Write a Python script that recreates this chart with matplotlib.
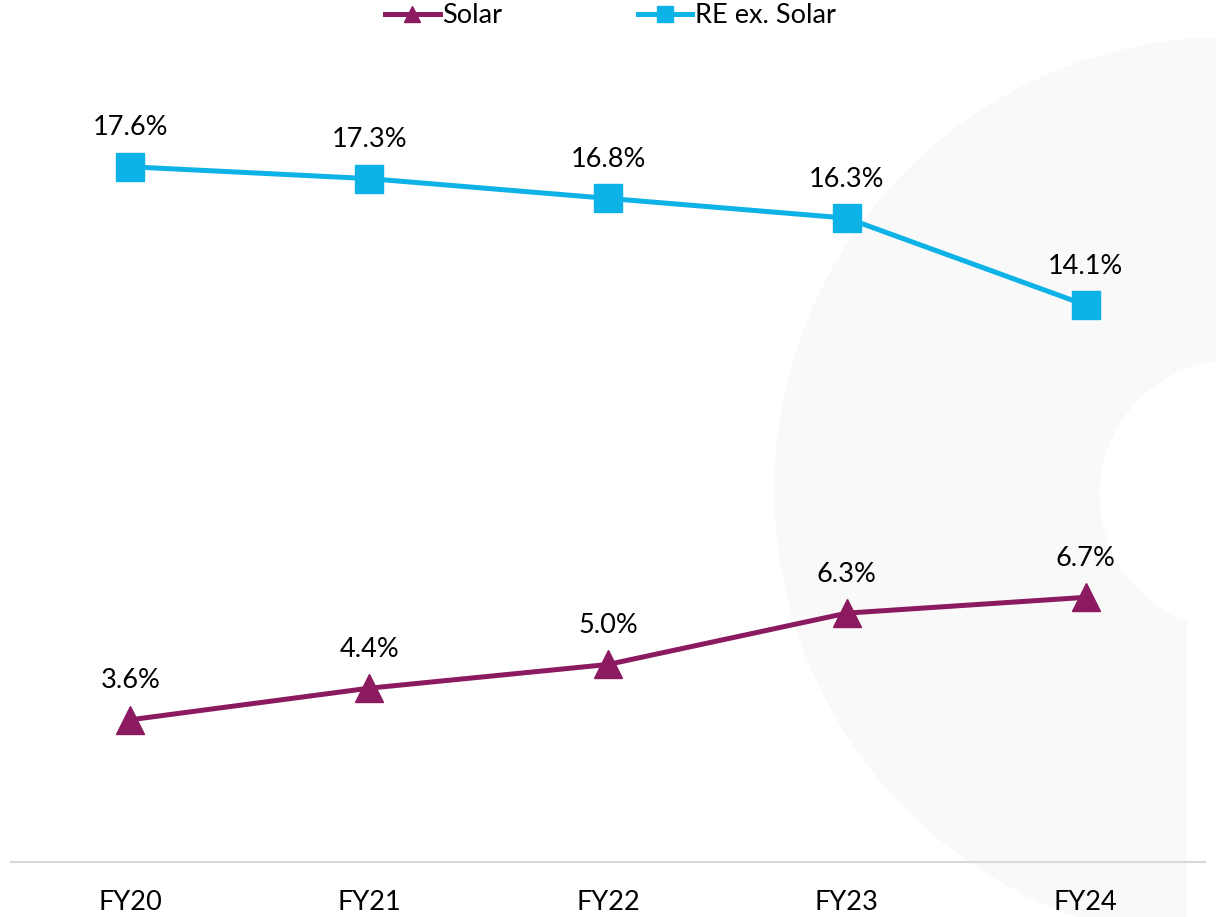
import matplotlib.pyplot as plt
from matplotlib.patches import Circle, Rectangle

years = ['FY20', 'FY21', 'FY22', 'FY23', 'FY24']
solar = [3.6, 4.4, 5.0, 6.3, 6.7]
re_ex_solar = [17.6, 17.3, 16.8, 16.3, 14.1]

purple = '#8C1A60'
blue = '#0DB2E6'
font = 'Lato'

fig = plt.figure(figsize=(12.16, 9.17), dpi=100)

# faint watermark ring on the right
fig.add_artist(Circle((12.27, 4.27), 4.52, transform=fig.dpi_scale_trans,
                      color='#f9f9f9', zorder=0))
fig.add_artist(Circle((12.35, 4.22), 1.35, transform=fig.dpi_scale_trans,
                      color='white', zorder=0))
fig.add_artist(Rectangle((11.87, 0), 0.4, 2.97, transform=fig.dpi_scale_trans,
                         color='white', zorder=0))

ax = fig.add_axes([0.009, 0.06, 0.982, 0.8615])
ax.set_facecolor('none')

x = range(len(years))
ax.plot(x, solar, color=purple, lw=3.6, marker='^', ms=20, label='Solar')
ax.plot(x, re_ex_solar, color=blue, lw=3.6, marker='s', ms=20, label='RE ex. Solar')

for xi, v in zip(x, solar):
    ax.annotate(f'{v:.1f}%', (xi, v), xytext=(0, 28), textcoords='offset points',
                ha='center', va='center', fontsize=19.5, family=font)
for xi, v in zip(x, re_ex_solar):
    ax.annotate(f'{v:.1f}%', (xi, v), xytext=(0, 28), textcoords='offset points',
                ha='center', va='center', fontsize=19.5, family=font)

ax.set_xlim(-0.5, 4.5)
ax.set_ylim(0, 20)
ax.set_xticks(list(x))
ax.set_xticklabels(years, fontsize=19.5, family=font)
ax.tick_params(axis='x', length=0, pad=20)
ax.set_yticks([])
for s in ['top', 'left', 'right']:
    ax.spines[s].set_visible(False)
ax.spines['bottom'].set_color('#d9d9d9')
ax.spines['bottom'].set_linewidth(1.5)

leg = fig.legend(loc='center', bbox_to_anchor=(0.502, 0.983), ncol=2, frameon=False,
                 prop={'family': font, 'size': 19.5}, handlelength=2.0,
                 handletextpad=0.1, columnspacing=5.0, markerscale=0.6)

fig.savefig('out.png', dpi=100)
